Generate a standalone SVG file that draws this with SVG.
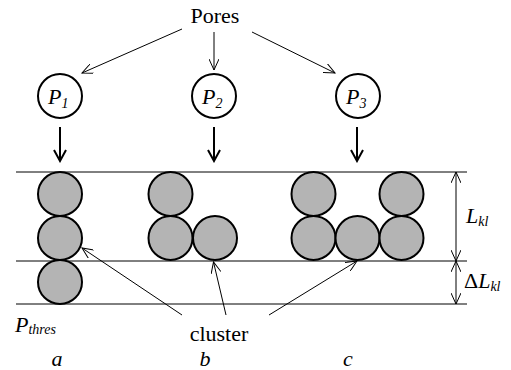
<svg xmlns="http://www.w3.org/2000/svg" width="511" height="370" viewBox="0 0 511 370">
<defs>
<marker id="open" viewBox="0 0 12 10" refX="11" refY="5" markerWidth="12" markerHeight="10" markerUnits="userSpaceOnUse" orient="auto-start-reverse">
<path d="M0,0 L11,5 L0,10" fill="none" stroke="#000" stroke-width="1"/>
</marker>
<marker id="bold" viewBox="0 0 14 14" refX="12" refY="7" markerWidth="14" markerHeight="14" markerUnits="userSpaceOnUse" orient="auto">
<path d="M1,1 L12,7 L1,13" fill="none" stroke="#000" stroke-width="2"/>
</marker>
</defs>
<style>
.t{font-size:22px}
.i{font-style:italic}
.sub{font-size:14px;font-style:italic}
.ball{fill:#b4b4b4;stroke:#000;stroke-width:2}
.node{fill:#fff;stroke:#000;stroke-width:2}
.ln{stroke:#000;stroke-width:1;fill:none}
.thick{stroke:#000;stroke-width:2;fill:none}
</style>
<rect width="511" height="370" fill="#fff"/>
<g id="layers">
<line class="ln" x1="16" y1="172" x2="467" y2="172"/>
<line class="ln" x1="16" y1="261" x2="467" y2="261"/>
<line class="ln" x1="16" y1="304" x2="467" y2="304"/>
</g>
<g font-family="'Liberation Serif', 'DejaVu Serif', 'Times New Roman', serif" fill="#000">
<g id="pores"><text class="t" x="215" y="23" text-anchor="middle">Pores</text></g>
<g id="p1"><circle class="node" cx="60" cy="96" r="22"/><text class="t i" x="48" y="104">P<tspan class="sub" dy="4">1</tspan></text></g>
<g id="p2"><circle class="node" cx="214" cy="96" r="22"/><text class="t i" x="202" y="104">P<tspan class="sub" dy="4">2</tspan></text></g>
<g id="p3"><circle class="node" cx="358" cy="96" r="22"/><text class="t i" x="346" y="104">P<tspan class="sub" dy="4">3</tspan></text></g>
<g id="labels">
<text class="t i" x="466" y="223">L<tspan class="sub" dy="3">kl</tspan></text>
<text class="t" x="464" y="288">Δ<tspan class="i">L</tspan><tspan class="sub" dy="3">kl</tspan></text>
<text class="t i" x="15" y="332">P<tspan class="sub" dy="2">thres</tspan></text>
<text class="t" x="219" y="341" text-anchor="middle">cluster</text>
<text class="t i" x="57" y="366" text-anchor="middle">a</text>
<text class="t i" x="205" y="366" text-anchor="middle">b</text>
<text class="t i" x="348" y="366" text-anchor="middle">c</text>
</g>
</g>
<g id="cluster-a">
<circle class="ball" cx="60" cy="194" r="22"/>
<circle class="ball" cx="60" cy="238" r="22"/>
<circle class="ball" cx="60" cy="282" r="22"/>
</g>
<g id="cluster-b">
<circle class="ball" cx="170.5" cy="194" r="22"/>
<circle class="ball" cx="170.5" cy="238" r="22"/>
<circle class="ball" cx="215" cy="238" r="22"/>
</g>
<g id="cluster-c">
<circle class="ball" cx="313.5" cy="194" r="22"/>
<circle class="ball" cx="313.5" cy="238" r="22"/>
<circle class="ball" cx="357.5" cy="238" r="22"/>
<circle class="ball" cx="401.5" cy="194" r="22"/>
<circle class="ball" cx="401.5" cy="238" r="22"/>
</g>
<g id="connectors">
<line class="ln" x1="182" y1="29" x2="82" y2="73" marker-end="url(#open)"/>
<line class="ln" x1="214" y1="32" x2="214" y2="70" marker-end="url(#open)"/>
<line class="ln" x1="252" y1="32" x2="335" y2="73" marker-end="url(#open)"/>
<line class="thick" x1="60" y1="127" x2="60" y2="161" marker-end="url(#bold)"/>
<line class="thick" x1="214" y1="127" x2="214" y2="161" marker-end="url(#bold)"/>
<line class="thick" x1="357" y1="127" x2="357" y2="161" marker-end="url(#bold)"/>
<line class="ln" x1="182" y1="315" x2="82" y2="248" marker-end="url(#open)"/>
<line class="ln" x1="226" y1="315" x2="213.5" y2="262" marker-end="url(#open)"/>
<line class="ln" x1="269" y1="315" x2="357" y2="261" marker-end="url(#open)"/>
<line class="ln" x1="456" y1="172" x2="456" y2="261" marker-start="url(#open)" marker-end="url(#open)"/>
<line class="ln" x1="456" y1="261" x2="456" y2="304" marker-start="url(#open)" marker-end="url(#open)"/>
</g>
</svg>
